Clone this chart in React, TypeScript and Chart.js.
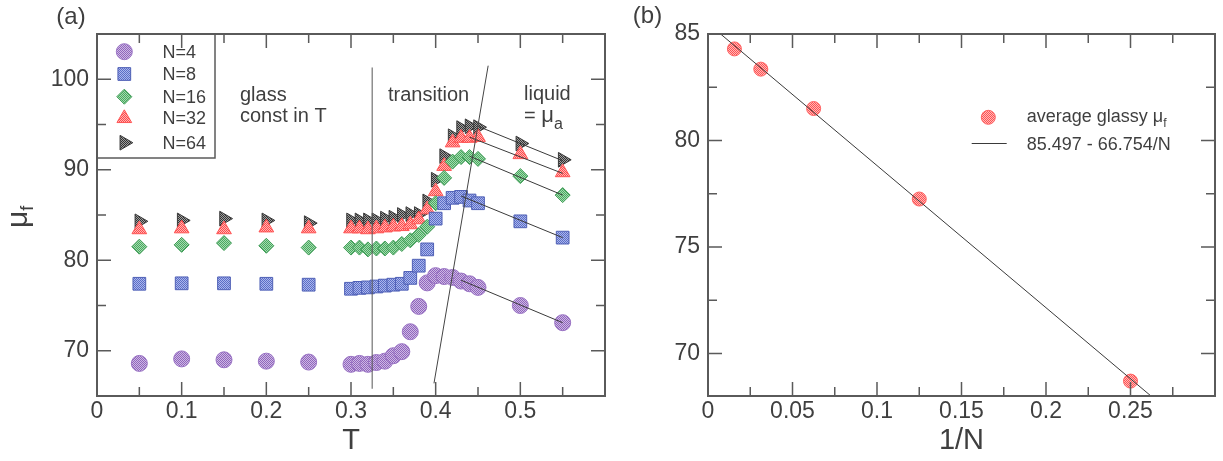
import React, { useEffect, useRef } from 'react';
import { Chart, registerables } from 'chart.js';

Chart.register(...registerables);

const FONT = '"Liberation Sans", Arial, Helvetica, sans-serif';
const TEXT = '#3f3f3f';
const FRAME = '#5a5a5a';
const LINE = '#3a3a3a';

// ---------- Panel (a) data ----------
const temperatures = [0.05, 0.1, 0.15, 0.2, 0.25, 0.3, 0.31, 0.32, 0.33, 0.34, 0.35, 0.36, 0.37, 0.38, 0.39, 0.4, 0.41, 0.42, 0.43, 0.44, 0.45, 0.5, 0.55];
const muN4 = [68.6, 69.1, 69.0, 68.85, 68.75, 68.5, 68.6, 68.5, 68.7, 68.85, 69.45, 69.9, 72.1, 74.9, 77.5, 78.3, 78.2, 78.1, 77.7, 77.4, 77.0, 75.0, 73.1];
const muN8 = [77.4, 77.45, 77.45, 77.4, 77.3, 76.85, 76.95, 77.0, 77.1, 77.2, 77.3, 77.4, 78.05, 79.4, 81.2, 84.6, 86.3, 86.9, 87.0, 86.6, 86.3, 84.3, 82.5];
const muN16 = [81.5, 81.7, 81.9, 81.6, 81.4, 81.4, 81.4, 81.2, 81.3, 81.3, 81.4, 81.8, 82.2, 82.8, 83.7, 86.3, 89.1, 90.9, 91.4, 91.4, 91.2, 89.3, 87.2];
const muN32 = [83.4, 83.5, 83.4, 83.6, 83.5, 83.5, 83.5, 83.4, 83.5, 83.6, 83.7, 83.75, 83.95, 84.5, 85.6, 87.6, 90.4, 93.0, 93.5, 93.5, 93.6, 91.7, 89.7];
const muN64 = [84.3, 84.4, 84.6, 84.4, 84.1, 84.4, 84.4, 84.4, 84.4, 84.6, 84.7, 85.0, 85.1, 85.1, 86.5, 88.9, 91.5, 93.7, 94.6, 94.8, 94.7, 92.9, 91.1];

// liquid-region linear fits (start/end)
const fitT4 = [0.43, 0.55];
const fitMu4 = [77.8, 73.1];
const fitT8 = [0.43, 0.55];
const fitMu8 = [87.1, 82.5];
const fitT16 = [0.44, 0.55];
const fitMu16 = [91.5, 87.2];
const fitT32 = [0.44, 0.55];
const fitMu32 = [93.6, 89.6];
const fitT64 = [0.45, 0.55];
const fitMu64 = [94.8, 91.0];

// region separators
const glassBoundT = [0.325, 0.325];
const glassBoundMu = [65.8, 101.3];
const liquidBoundT = [0.398, 0.462];
const liquidBoundMu = [66.4, 101.5];

const seriesLabels = ['N=4', 'N=8', 'N=16', 'N=32', 'N=64'];

// ticks panel (a)
const xTickLabelsA = [0, 0.1, 0.2, 0.3, 0.4, 0.5];
const yTickLabelsA = [70, 80, 90, 100];
const xMajorA = [0.1, 0.2, 0.3, 0.4, 0.5];
const xMinorA = [0.05, 0.15, 0.25, 0.35, 0.45, 0.55];
const yMajorA = [70, 80, 90, 100];
const yMinorA = [75, 85, 95];

// ---------- Panel (b) data ----------
const inverseN = [1 / 64, 1 / 32, 1 / 16, 1 / 8, 1 / 4];
const avgGlassyMu = [84.3, 83.35, 81.5, 77.25, 68.7];
const fitLineX = [0, 0.3];
const fitLineY = [85.497, 65.471];
const xTickLabelsB = [0, 0.05, 0.1, 0.15, 0.2, 0.25];
const yTickLabelsB = [70, 75, 80, 85];
const xMajorB = [0.05, 0.1, 0.15, 0.2, 0.25];
const xMinorB = [0.025, 0.075, 0.125, 0.175, 0.225, 0.275];
const yMajorB = [70, 75, 80];
const yMinorB = [72.5, 77.5, 82.5];

const pts = (xs: number[], ys: number[]) => xs.map((x, i) => ({ x, y: ys[i] }));
const fmt = (v: number) => String(Math.round(v * 1000) / 1000);

function dotPattern(light: string, dark: string): any {
  const c = document.createElement('canvas');
  c.width = 2;
  c.height = 2;
  const g = c.getContext('2d');
  if (!g) return dark;
  g.fillStyle = light;
  g.fillRect(0, 0, 2, 2);
  g.fillStyle = dark;
  g.fillRect(0, 0, 1, 1);
  g.fillRect(1, 1, 1, 1);
  return g.createPattern(c, 'repeat') || dark;
}

function drawMarker(ctx: CanvasRenderingContext2D, shape: string, rot: number, x: number, y: number, r: number, fill: any, stroke: string) {
  ctx.save();
  ctx.beginPath();
  if (shape === 'circle') {
    ctx.arc(x, y, r, 0, Math.PI * 2);
  } else if (shape === 'rect') {
    const s = r * Math.SQRT1_2;
    ctx.rect(x - s, y - s, 2 * s, 2 * s);
  } else if (shape === 'rectRot') {
    ctx.moveTo(x, y - r);
    ctx.lineTo(x + r, y);
    ctx.lineTo(x, y + r);
    ctx.lineTo(x - r, y);
    ctx.closePath();
  } else {
    let rad = (rot * Math.PI) / 180;
    ctx.moveTo(x + Math.sin(rad) * r, y - Math.cos(rad) * r);
    rad += (2 * Math.PI) / 3;
    ctx.lineTo(x + Math.sin(rad) * r, y - Math.cos(rad) * r);
    rad += (2 * Math.PI) / 3;
    ctx.lineTo(x + Math.sin(rad) * r, y - Math.cos(rad) * r);
    ctx.closePath();
  }
  ctx.fillStyle = fill;
  ctx.fill();
  ctx.lineWidth = 1;
  ctx.strokeStyle = stroke;
  ctx.stroke();
  ctx.restore();
}

function drawRich(ctx: CanvasRenderingContext2D, parts: { t: string; size: number; dy: number }[], x: number, y: number) {
  let cx = x;
  ctx.textAlign = 'left';
  ctx.textBaseline = 'alphabetic';
  for (const p of parts) {
    ctx.font = `${p.size}px ${FONT}`;
    ctx.fillText(p.t, cx, y + p.dy);
    cx += ctx.measureText(p.t).width;
  }
}

function drawFrameAndTicks(chart: any, xMaj: number[], xMin: number[], yMaj: number[], yMin: number[]) {
  const { ctx, chartArea: a, scales } = chart;
  const sx = scales.x;
  const sy = scales.y;
  ctx.save();
  ctx.strokeStyle = FRAME;
  ctx.lineWidth = 1.5;
  ctx.beginPath();
  const vt = (v: number, len: number) => {
    const p = sx.getPixelForValue(v);
    ctx.moveTo(p, a.bottom);
    ctx.lineTo(p, a.bottom - len);
    ctx.moveTo(p, a.top);
    ctx.lineTo(p, a.top + len);
  };
  const ht = (v: number, len: number) => {
    const p = sy.getPixelForValue(v);
    ctx.moveTo(a.left, p);
    ctx.lineTo(a.left + len, p);
    ctx.moveTo(a.right, p);
    ctx.lineTo(a.right - len, p);
  };
  xMaj.forEach((v) => vt(v, 14));
  xMin.forEach((v) => vt(v, 9));
  yMaj.forEach((v) => ht(v, 14));
  yMin.forEach((v) => ht(v, 9));
  ctx.stroke();
  ctx.lineWidth = 2;
  ctx.strokeRect(a.left, a.top, a.right - a.left, a.bottom - a.top);
  ctx.restore();
}

function baseScales(xMin: number, xMax: number, yMin: number, yMax: number, xLabels: number[], yLabels: number[], yWidth: number, xTitle: string) {
  return {
    x: {
      type: 'linear',
      min: xMin,
      max: xMax,
      afterFit: (s: any) => {
        s.height = 65;
      },
      afterBuildTicks: (s: any) => {
        s.ticks = xLabels.map((v) => ({ value: v }));
      },
      grid: { display: false, drawTicks: false },
      border: { display: false },
      ticks: { autoSkip: false, maxRotation: 0, padding: 2, color: TEXT, font: { family: FONT, size: 23 }, callback: (v: any) => fmt(Number(v)) },
      title: { display: true, text: xTitle, color: TEXT, font: { family: FONT, size: 29 }, padding: { top: 0, bottom: 3 } },
    },
    y: {
      type: 'linear',
      min: yMin,
      max: yMax,
      afterFit: (s: any) => {
        s.width = yWidth;
      },
      afterBuildTicks: (s: any) => {
        s.ticks = yLabels.map((v) => ({ value: v }));
      },
      grid: { display: false, drawTicks: false },
      border: { display: false },
      ticks: { autoSkip: false, padding: 8, color: TEXT, font: { family: FONT, size: 23 }, callback: (v: any) => fmt(Number(v)) },
    },
  };
}

export default function App() {
  const refA = useRef<HTMLCanvasElement>(null);
  const refB = useRef<HTMLCanvasElement>(null);

  useEffect(() => {
    const styles = [
      { shape: 'circle', rot: 0, r: 8, fill: dotPattern('#cdb8e4', '#9066bc'), border: '#9a74c4' },
      { shape: 'rect', rot: 0, r: 9, fill: dotPattern('#aab6ec', '#5c6ec6'), border: '#4f60b6' },
      { shape: 'rectRot', rot: 0, r: 7.5, fill: dotPattern('#a3dcad', '#4aa762'), border: '#3d9a54' },
      { shape: 'triangle', rot: 0, r: 8.5, fill: dotPattern('#ffb4b4', '#ff4a4a'), border: '#ff5555' },
      { shape: 'triangle', rot: 90, r: 8.5, fill: dotPattern('#a0a0a0', '#333333'), border: '#3a3a3a' },
    ];
    const seriesData = [muN4, muN8, muN16, muN32, muN64];

    const lineDs = (xs: number[], ys: number[], color: string) => ({
      data: pts(xs, ys),
      showLine: true,
      pointRadius: 0,
      borderColor: color,
      borderWidth: 1,
      fill: false,
    });

    const datasetsA: any[] = [
      lineDs(glassBoundT, glassBoundMu, '#555555'),
      lineDs(liquidBoundT, liquidBoundMu, '#444444'),
      lineDs(fitT4, fitMu4, LINE),
      lineDs(fitT8, fitMu8, LINE),
      lineDs(fitT16, fitMu16, LINE),
      lineDs(fitT32, fitMu32, LINE),
      lineDs(fitT64, fitMu64, LINE),
      ...seriesData.map((d, i) => ({
        label: seriesLabels[i],
        data: pts(temperatures, d),
        showLine: false,
        pointStyle: styles[i].shape,
        pointRotation: styles[i].rot,
        pointRadius: styles[i].r,
        pointBackgroundColor: styles[i].fill,
        pointBorderColor: styles[i].border,
        pointBorderWidth: 1,
      })),
    ];

    const plugA = {
      id: 'panelA',
      afterDatasetsDraw(chart: any) {
        drawFrameAndTicks(chart, xMajorA, xMinorA, yMajorA, yMinorA);
      },
      afterDraw(chart: any) {
        const ctx: CanvasRenderingContext2D = chart.ctx;
        const a = chart.chartArea;
        ctx.save();
        // legend box
        ctx.strokeStyle = FRAME;
        ctx.lineWidth = 1.5;
        ctx.strokeRect(a.left, a.top, 118, 124);
        const rows = [51.7, 74, 96.7, 118.3, 142.7];
        rows.forEach((y, i) => {
          drawMarker(ctx, styles[i].shape, styles[i].rot, 124.3, y, styles[i].r, styles[i].fill, styles[i].border);
          ctx.fillStyle = TEXT;
          ctx.font = `18px ${FONT}`;
          ctx.textAlign = 'left';
          ctx.textBaseline = 'middle';
          ctx.fillText(seriesLabels[i], 162.5, y + 1);
        });
        // annotations
        ctx.fillStyle = TEXT;
        drawRich(ctx, [{ t: 'glass', size: 20, dy: 0 }], 240, 101);
        drawRich(ctx, [{ t: 'const in T', size: 20, dy: 0 }], 240, 122);
        drawRich(ctx, [{ t: 'transition', size: 20, dy: 0 }], 388, 101);
        drawRich(ctx, [{ t: 'liquid', size: 20, dy: 0 }], 524, 100);
        drawRich(ctx, [{ t: '= ', size: 20, dy: 0 }, { t: 'μ', size: 22, dy: 0 }, { t: 'a', size: 16, dy: 7 }], 524, 122);
        // panel tag
        ctx.font = `24px ${FONT}`;
        ctx.textAlign = 'center';
        ctx.textBaseline = 'middle';
        ctx.fillText('(a)', 71, 17);
        // y title
        ctx.translate(27, 228);
        ctx.rotate(-Math.PI / 2);
        drawRich(ctx, [{ t: 'μ', size: 30, dy: 0 }, { t: 'f', size: 18, dy: 6 }], 0, 0);
        ctx.restore();
      },
    };

    const chartA = new Chart(refA.current as HTMLCanvasElement, {
      type: 'scatter',
      data: { datasets: datasetsA },
      options: {
        animation: false,
        responsive: false,
        maintainAspectRatio: false,
        devicePixelRatio: 1,
        layout: { padding: { top: 34, right: 35, bottom: 0, left: 0 } },
        plugins: { legend: { display: false }, tooltip: { enabled: false } },
        scales: baseScales(0, 0.6, 65, 105, xTickLabelsA, yTickLabelsA, 97, 'T') as any,
      },
      plugins: [plugA],
    } as any);

    const redFill = dotPattern('#ffb8b8', '#ff5252');
    const datasetsB: any[] = [
      lineDs(fitLineX, fitLineY, LINE),
      {
        label: 'average glassy μf',
        data: pts(inverseN, avgGlassyMu),
        showLine: false,
        pointStyle: 'circle',
        pointRadius: 7,
        pointBackgroundColor: redFill,
        pointBorderColor: '#ff6464',
        pointBorderWidth: 1,
      },
    ];

    const plugB = {
      id: 'panelB',
      afterDatasetsDraw(chart: any) {
        drawFrameAndTicks(chart, xMajorB, xMinorB, yMajorB, yMinorB);
      },
      afterDraw(chart: any) {
        const ctx: CanvasRenderingContext2D = chart.ctx;
        ctx.save();
        // legend (page x - 620)
        drawMarker(ctx, 'circle', 0, 368.3, 117.3, 7, redFill, '#ff6464');
        ctx.fillStyle = TEXT;
        drawRich(ctx, [{ t: 'average glassy ', size: 18, dy: 0 }, { t: 'μ', size: 18, dy: 0 }, { t: 'f', size: 12, dy: 5 }], 406.7, 122);
        ctx.strokeStyle = LINE;
        ctx.lineWidth = 1;
        ctx.beginPath();
        ctx.moveTo(351.7, 143.5);
        ctx.lineTo(386.7, 143.5);
        ctx.stroke();
        ctx.font = `18px ${FONT}`;
        ctx.textAlign = 'left';
        ctx.textBaseline = 'middle';
        ctx.fillText('85.497 - 66.754/N', 406.7, 145);
        ctx.font = `24px ${FONT}`;
        ctx.textAlign = 'center';
        ctx.fillText('(b)', 27.5, 16);
        ctx.restore();
      },
    };

    const chartB = new Chart(refB.current as HTMLCanvasElement, {
      type: 'scatter',
      data: { datasets: datasetsB },
      options: {
        animation: false,
        responsive: false,
        maintainAspectRatio: false,
        devicePixelRatio: 1,
        layout: { padding: { top: 34, right: 8, bottom: 0, left: 0 } },
        plugins: { legend: { display: false }, tooltip: { enabled: false } },
        scales: baseScales(0, 0.3, 68, 85, xTickLabelsB, yTickLabelsB, 88, '1/N') as any,
      },
      plugins: [plugB],
    } as any);

    return () => {
      chartA.destroy();
      chartB.destroy();
    };
  }, []);

  return (
    <div style={{ position: 'absolute', left: 0, top: 0, width: 1223, height: 461, background: '#ffffff' }}>
      <canvas ref={refA} width={640} height={461} style={{ position: 'absolute', left: 0, top: 0, width: 640, height: 461 }} />
      <canvas ref={refB} width={603} height={461} style={{ position: 'absolute', left: 620, top: 0, width: 603, height: 461 }} />
    </div>
  );
}
